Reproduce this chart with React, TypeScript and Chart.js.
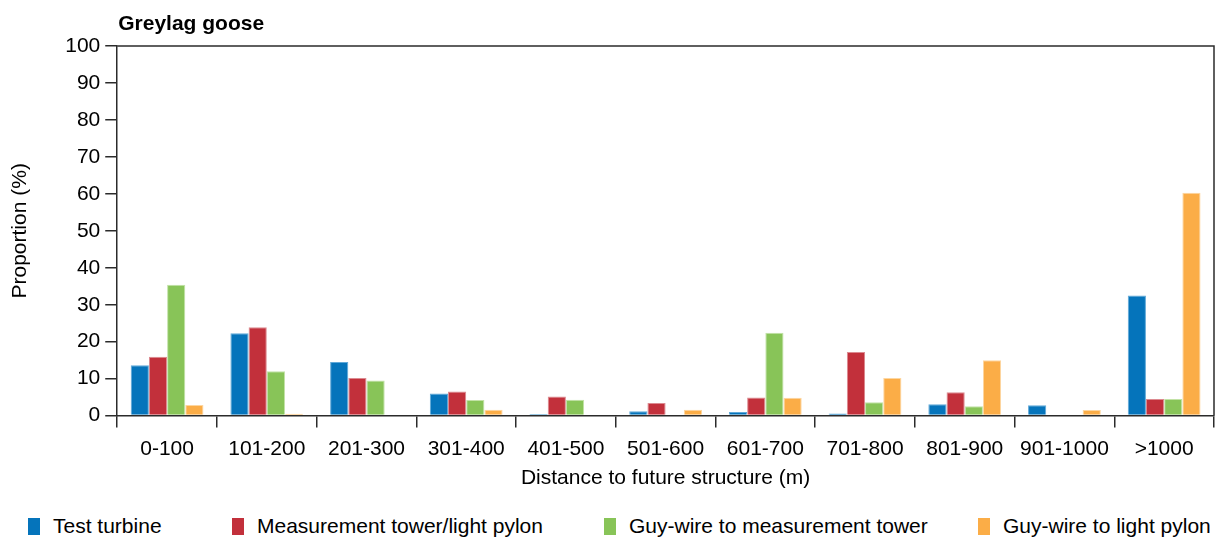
import { useEffect, useRef } from "react";
import { Chart, registerables } from "chart.js";
Chart.register(...registerables);

const categories = ["0-100", "101-200", "201-300", "301-400", "401-500", "501-600", "601-700", "701-800", "801-900", "901-1000", ">1000"];
const testTurbine = [13.6, 22.3, 14.5, 6.0, 0.4, 1.2, 1.0, 0.6, 3.1, 2.8, 32.5];
const measurementTower = [15.9, 23.9, 10.2, 6.5, 5.2, 3.4, 4.9, 17.2, 6.3, null, 4.5];
const guyWireMeasurement = [35.4, 12.0, 9.5, 4.2, 4.3, null, 22.4, 3.6, 2.5, null, 4.5];
const guyWireLight = [2.9, 0.5, null, 1.6, null, 1.6, 4.8, 10.2, 15.0, 1.5, 60.3];
const seriesNames = ["Test turbine", "Measurement tower/light pylon", "Guy-wire to measurement tower", "Guy-wire to light pylon"];
const seriesColors = ["#0574bb", "#c2303b", "#88c458", "#fbad47"];
const seriesBorders = ["#5fa8d8", "#dc8a90", "#c2e2a6", "#fdd6a0"];
const chartTitle = "Greylag goose";
const xTitle = "Distance to future structure (m)";
const yTitle = "Proportion (%)";

const FONT = "'Liberation Sans', Arial, Helvetica, sans-serif";
const AXIS = "#2b2b2b";
const legendLefts = [28, 232, 604, 978];

export default function App() {
  const ref = useRef<HTMLCanvasElement | null>(null);
  useEffect(() => {
    document.body.style.margin = "0";
    Chart.defaults.font.family = FONT;
    Chart.defaults.color = "#000";
    const framePlugin = {
      id: "frame",
      afterDatasetsDraw(chart: any) {
        const { ctx, chartArea } = chart;
        ctx.save();
        ctx.strokeStyle = AXIS;
        ctx.lineWidth = 1.5;
        ctx.beginPath();
        ctx.moveTo(chartArea.left, chartArea.top);
        ctx.lineTo(chartArea.right, chartArea.top);
        ctx.lineTo(chartArea.right, chartArea.bottom);
        ctx.stroke();
        ctx.fillStyle = "#000";
        ctx.font = `bold 21px ${FONT}`;
        ctx.textAlign = "left";
        ctx.textBaseline = "middle";
        ctx.fillText(chartTitle, chartArea.left + 1, 24);
        ctx.restore();
      },
    };
    const datasets = [testTurbine, measurementTower, guyWireMeasurement, guyWireLight].map((data, i) => ({
      label: seriesNames[i],
      data,
      backgroundColor: seriesColors[i],
      borderColor: seriesBorders[i],
      borderWidth: 1,
      categoryPercentage: 0.73,
      barPercentage: 1.0,
    }));
    const chart = new Chart(ref.current!, {
      type: "bar",
      data: { labels: categories, datasets },
      options: {
        responsive: false,
        animation: false,
        layout: { padding: { top: 46, right: 3, left: 8, bottom: 9 } },
        plugins: {
          title: { display: false },
          tooltip: { enabled: false },
          legend: { display: false },
        },
        scales: {
          x: {
            offset: true,
            grid: { offset: true, drawOnChartArea: false, tickLength: 12, color: AXIS, lineWidth: 1.5 },
            border: { color: AXIS, width: 1.5 },
            ticks: { font: { size: 21 }, color: "#000", padding: 9, maxRotation: 0 },
            title: { display: true, text: xTitle, font: { size: 21 }, color: "#000", padding: { top: -5, bottom: 0 } },
          },
          y: {
            min: 0,
            max: 100,
            grid: { drawOnChartArea: false, tickLength: 12, color: AXIS, lineWidth: 1.5 },
            border: { color: AXIS, width: 1.5 },
            ticks: { stepSize: 10, font: { size: 21 }, color: "#000", padding: 5 },
            title: { display: true, text: yTitle, font: { size: 21 }, color: "#000", padding: { top: 0, bottom: 27 } },
          },
        },
      },
      plugins: [framePlugin],
    });
    return () => chart.destroy();
  }, []);
  return (
    <div style={{ position: "absolute", left: 0, top: 0, width: 1217, height: 538, background: "#fff", fontFamily: FONT }}>
      <canvas ref={ref} width={1217} height={500} style={{ display: "block" }} />
      {seriesNames.map((name, i) => (
        <div
          key={name}
          style={{ position: "absolute", left: legendLefts[i], top: 516, height: 20, display: "flex", alignItems: "center", whiteSpace: "nowrap" }}
        >
          <span style={{ display: "inline-block", width: 12, height: 17, background: seriesColors[i], marginRight: 13 }} />
          <span style={{ fontSize: 21, lineHeight: "20px", color: "#000" }}>{name}</span>
        </div>
      ))}
    </div>
  );
}
